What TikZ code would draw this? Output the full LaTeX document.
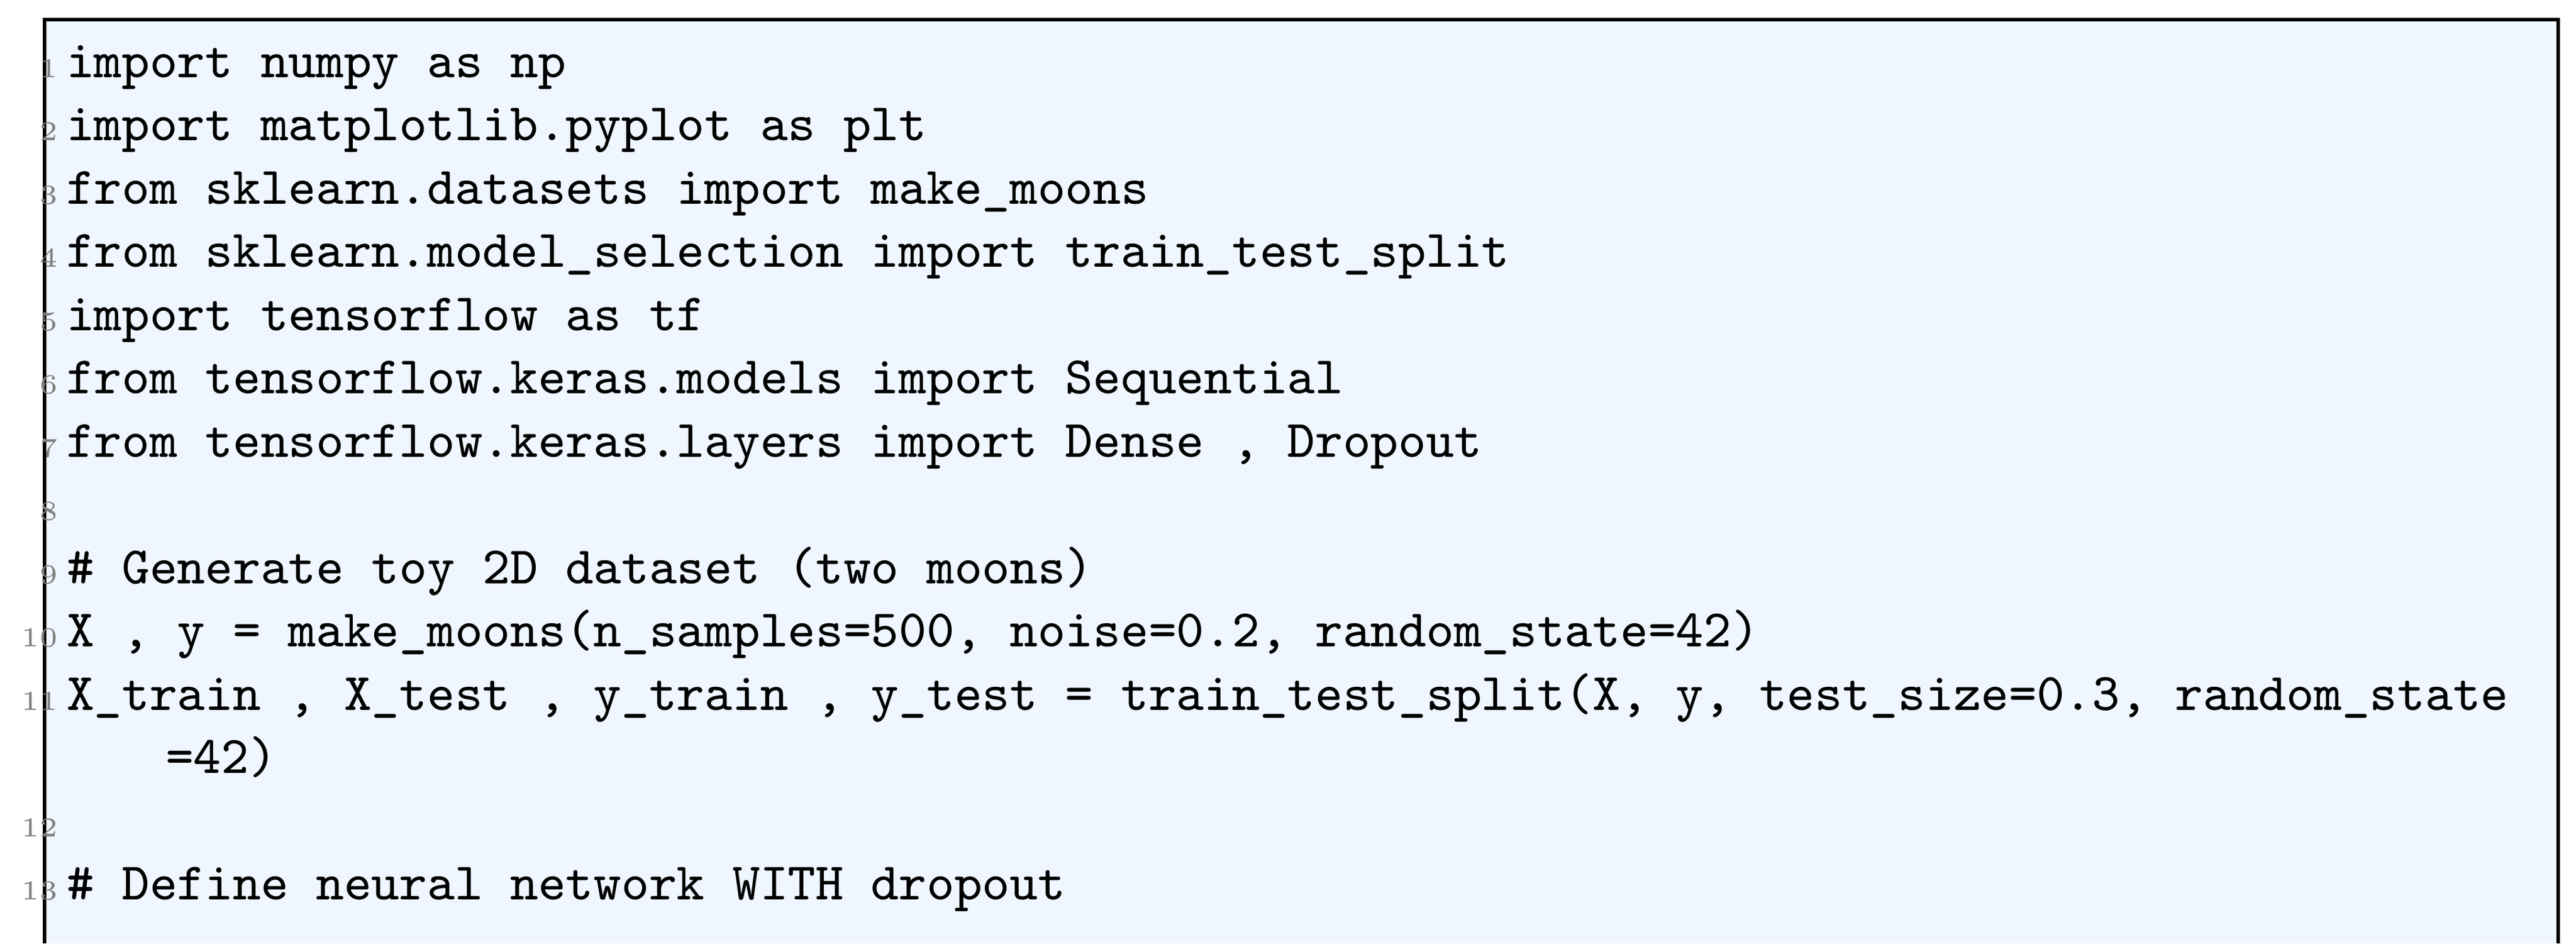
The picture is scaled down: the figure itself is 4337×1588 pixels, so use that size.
\documentclass[tikz,border=0pt]{standalone}
\usepackage{fontspec}
\usepackage{tikz}
\definecolor{codebg}{RGB}{239,246,255}
\definecolor{numgray}{RGB}{128,128,128}
\tikzset{
  codeline/.style={anchor=base west,inner sep=0pt,font=\fontsize{8.9}{10.6}\selectfont\ttfamily},
  lineno/.style={anchor=base east,inner sep=0pt,text=numgray,font=\fontsize{4.6}{5}\selectfont}
}
\begin{document}
\begin{tikzpicture}[x=0.1pt,y=0.1pt,yscale=-1,xscale=1]
\useasboundingbox (0,0) rectangle (4337,1588);

% Frame (open at the bottom)
\fill [codebg] (75,33) rectangle (4307,1588);
\draw [line width=0.6pt] (75,1588) -- (75,33) -- (4307,33) -- (4307,1588);

% Code lines
\node [codeline] (l1) at (110,130) {import numpy as np};
\node [codeline] (l2) at (110,236.5) {import matplotlib.pyplot as plt};
\node [codeline] (l3) at (110,343) {from sklearn.datasets import make\_moons};
\node [codeline] (l4) at (110,449.5) {from sklearn.model\_selection import train\_test\_split};
\node [codeline] (l5) at (110,556) {import tensorflow as tf};
\node [codeline] (l6) at (110,662.5) {from tensorflow.keras.models import Sequential};
\node [codeline] (l7) at (110,769) {from tensorflow.keras.layers import Dense , Dropout};
\node [codeline] (l9) at (110,982) {\# Generate toy 2D dataset (two moons)};
\node [codeline] (l10) at (110,1088.5) {X , y = make\_moons(n\_samples=500, noise=0.2, random\_state=42)};
\node [codeline] (l11) at (110,1195) {X\_train , X\_test , y\_train , y\_test = train\_test\_split(X, y, test\_size=0.3, random\_state};
\node [codeline] (l11b) at (277,1301.5) {=42)};
\node [codeline] (l13) at (110,1514.5) {\# Define neural network WITH dropout};

% Line numbers
\foreach \n/\y in {1/130,2/236.5,3/343,4/449.5,5/556,6/662.5,7/769,8/875.5,9/982,10/1088.5,11/1195,12/1408,13/1514.5}
  \node [lineno] (n\n) at (100,\y) {\n};

\end{tikzpicture}
\end{document}
